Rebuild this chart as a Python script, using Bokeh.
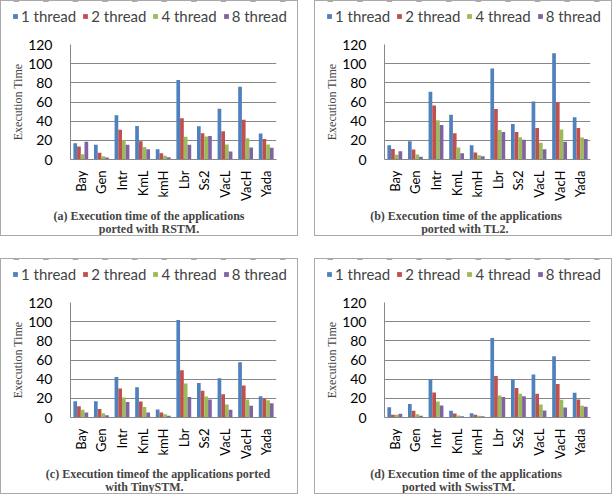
from bokeh.plotting import figure
from bokeh.models import ColumnDataSource, FactorRange, Legend, LegendItem, Label, Range1d
from bokeh.layouts import column, row
from bokeh.transform import dodge
from bokeh.embed import file_html
from bokeh.resources import INLINE
import math

apps = ["Bay", "Gen", "Intr", "KmL", "kmH", "Lbr", "Ss2", "VacL", "VacH", "Yada"]
series_names = ["1 thread", "2 thread", "4 thread", "8 thread"]
colors = ["#4F81BD", "#C0504D", "#9BBB59", "#8064A2"]
y_ticks = [0, 20, 40, 60, 80, 100, 120]

# (a) RSTM
rstm_1 = [17, 15.3, 46.3, 35, 10.8, 83, 34.8, 53, 76, 27.2]
rstm_2 = [13.6, 7, 31, 19, 6.6, 43, 27.5, 29.6, 41.5, 21.3]
rstm_4 = [5.6, 3.5, 20, 13, 3.8, 23.7, 24, 15.7, 22.3, 15.7]
rstm_8 = [18.5, 2, 15.3, 10.8, 2.4, 15.3, 24.4, 8.4, 12.5, 12.2]
# (b) TL2
tl2_1 = [15, 19, 70.7, 46.7, 15, 95, 37, 60.6, 110.8, 44]
tl2_2 = [11, 10.5, 56.4, 27.5, 7.3, 52.6, 28.6, 32.8, 60, 32.8]
tl2_4 = [5, 5.2, 41, 12.5, 4.5, 30.7, 23.3, 17.4, 31.4, 23]
tl2_8 = [8.7, 2.8, 36, 6.6, 3.5, 28.6, 20.6, 10.8, 18.5, 21.3]
# (c) TinySTM
tiny_1 = [17, 17, 42.3, 31.6, 8.3, 101.7, 36, 41, 57.6, 22.2]
tiny_2 = [11.8, 9, 30.2, 16.7, 5.2, 49.3, 27.8, 24.3, 33.3, 19.8]
tiny_4 = [8, 4.5, 20.8, 11, 3.5, 35.4, 21.9, 13.5, 18.7, 18]
tiny_8 = [5.2, 2.4, 16.3, 5.2, 1.7, 21.5, 18.7, 8, 12.2, 15]
# (d) SwissTM
swiss_1 = [10.8, 14, 40, 7, 4.5, 83, 39.8, 45, 64, 25.8]
swiss_2 = [2.8, 7, 26.2, 4.2, 2.8, 43.3, 30.7, 24.8, 35, 18.8]
swiss_4 = [2.8, 3.5, 16.8, 2, 1.7, 23, 24.8, 13.6, 18.5, 12.2]
swiss_8 = [3.8, 1.7, 12.6, 1.4, 1.4, 21.3, 22.3, 7.3, 10.5, 11.2]

captions = [
    ("(a) Execution time of the applications", "ported with RSTM."),
    ("(b) Execution time of the applications", "ported with TL2."),
    ("(c) Execution timeof the applications  ported", "with TinySTM."),
    ("(d) Execution time of the applications", "ported with SwissTM."),
]
caption_centers = [(147.5, 147.5), (150.5, 149.5), (158, 143), (150.5, 143)]

panels_data = [
    [rstm_1, rstm_2, rstm_4, rstm_8],
    [tl2_1, tl2_2, tl2_4, tl2_8],
    [tiny_1, tiny_2, tiny_4, tiny_8],
    [swiss_1, swiss_2, swiss_4, swiss_8],
]

SANS = "Lato"
SERIF = "Liberation Serif"
GRID = "#878787"
W = 296
KEYS = ["s1", "s2", "s3", "s4"]


def bare_figure(h, x_range, y_range):
    f = figure(width=W, height=h, output_backend="svg", toolbar_location=None,
               x_range=x_range, y_range=y_range,
               x_axis_location=None, y_axis_location=None,
               min_border=0, min_border_left=0, min_border_right=0,
               min_border_top=0, min_border_bottom=0)
    f.frame_align = False
    f.grid.visible = False
    f.outline_line_color = None
    return f


def make_panel(series, caption, centers):
    src = ColumnDataSource(dict(app=apps, s1=series[0], s2=series[1], s3=series[2], s4=series[3]))

    # legend strip (its bars lie outside its own range, only the legend shows)
    lf = bare_figure(30, FactorRange(factors=apps), Range1d(-2, -1))
    items = []
    for i, key in enumerate(KEYS):
        r = lf.vbar(x="app", top=key, width=0.18, source=src,
                    fill_color=colors[i], line_color=None)
        items.append(LegendItem(label=series_names[i], renderers=[r]))
    leg = Legend(items=items, orientation="horizontal", location=(11, 6),
                 margin=0, padding=0, spacing=6, glyph_width=6, glyph_height=6,
                 label_standoff=3, label_height=18, label_text_font=SANS,
                 label_text_font_size="15px", background_fill_alpha=0,
                 border_line_color=None)
    lf.add_layout(leg, "center")

    # chart
    p = figure(x_range=FactorRange(factors=apps, range_padding=0), y_range=(0, 120),
               width=W, height=172, output_backend="svg", toolbar_location=None,
               min_border_left=69, min_border_right=21, min_border_top=13, min_border_bottom=44)
    p.frame_align = False
    offs = [-0.27, -0.09, 0.09, 0.27]
    for i, key in enumerate(KEYS):
        p.vbar(x=dodge("app", offs[i], range=p.x_range), top=key, width=0.18,
               source=src, fill_color=colors[i], line_color=None)
    p.outline_line_color = None
    p.xgrid.grid_line_color = None
    p.ygrid.grid_line_color = GRID
    p.yaxis.ticker = y_ticks
    p.yaxis.axis_line_color = GRID
    p.yaxis.major_tick_line_color = None
    p.yaxis.minor_tick_line_color = None
    p.yaxis.major_label_text_font = SANS
    p.yaxis.major_label_text_font_size = "14px"
    p.yaxis.major_label_text_color = "black"
    p.yaxis.major_label_standoff = 12
    p.yaxis.axis_label = "Execution Time"
    p.yaxis.axis_label_text_font = SERIF
    p.yaxis.axis_label_text_font_size = "12px"
    p.yaxis.axis_label_text_font_style = "normal"
    p.yaxis.axis_label_standoff = 0
    p.xaxis.axis_line_color = GRID
    p.xaxis.major_tick_line_color = None
    p.xaxis.major_label_orientation = math.pi / 2
    p.xaxis.major_label_text_font = SANS
    p.xaxis.major_label_text_font_size = "13px"
    p.xaxis.major_label_text_color = "black"
    p.xaxis.major_label_standoff = 5

    # caption strip
    cf = bare_figure(32, Range1d(0, 1), Range1d(0, 1))
    for k, line in enumerate(caption):
        cf.add_layout(Label(x=centers[k], y=20 if k == 0 else 7, x_units="screen", y_units="screen",
                            text=line, text_align="center", text_baseline="middle",
                            text_font=SERIF, text_font_size="12px", text_font_style="bold"))

    return column(lf, p, cf, spacing=0, styles={"border": "1px solid #a9a9a9"})


panels = [make_panel(panels_data[i], captions[i], caption_centers[i]) for i in range(4)]
root = column(row(panels[0], panels[1], spacing=16),
              row(panels[2], panels[3], spacing=16), spacing=22)

open("out.html", "w").write(file_html(root, INLINE))
